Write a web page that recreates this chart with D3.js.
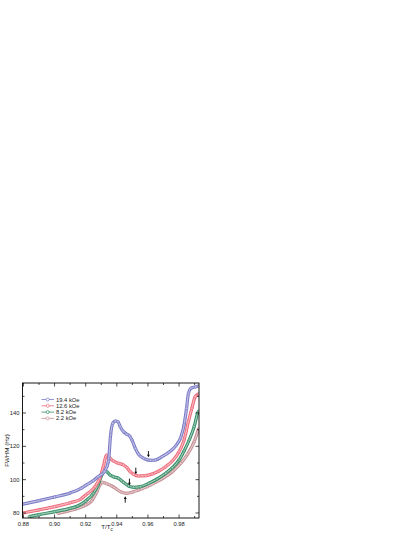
<!DOCTYPE html>
<html><head><meta charset="utf-8">
<script src="https://cdn.jsdelivr.net/npm/d3@7"></script>
<style>html,body{margin:0;padding:0;background:#fff;}svg{display:block;}</style>
</head><body>
<svg id="c" width="415" height="537"></svg>
<script>
const seriesNames = ["19.4 kOe", "12.6 kOe", "8.2 kOe", "2.2 kOe"];
const seriesColors = ["#7878c6", "#ee6878", "#318c64", "#c48c90"];
const blueX = [0.8795,0.89,0.90,0.91,0.917,0.92,0.925,0.928,0.932,0.9346,0.936,0.9374,0.939,0.9407,0.9422,0.9443,0.9465,0.9482,0.9497,0.9519,0.954,0.9573,0.9616,0.9649,0.969,0.9735,0.978,0.981,0.9832,0.9848,0.986,0.9876,0.9908,0.9925];
const blueY = [85.3,87.4,89.6,92.0,94.8,96.6,99.5,101.8,104.8,110.8,126.8,133.8,135.2,134.8,131.8,128.8,127.2,126.2,123.8,118.8,115.2,112.8,111.6,111.8,113.8,116.4,120.4,125.2,132.8,142.8,151.8,154.8,155.8,156.2];
const redX = [0.8795,0.89,0.90,0.91,0.917,0.92,0.926,0.929,0.9313,0.9329,0.9335,0.9357,0.9378,0.9411,0.9443,0.9465,0.9486,0.9508,0.954,0.9584,0.9627,0.967,0.9714,0.9757,0.98,0.9832,0.986,0.9882,0.9904,0.9925];
const redY = [80.0,81.9,83.8,86.2,88.4,90.8,95.8,100.8,107.8,113.8,114.8,112.8,111.2,109.8,108.8,107.2,104.8,103.2,102.2,102.4,103.4,105.2,107.8,111.2,116.8,123.8,134.8,142.8,149.8,151.4];
const greenX = [0.8838,0.89,0.90,0.91,0.915,0.92,0.9249,0.928,0.9303,0.932,0.9335,0.9357,0.9378,0.9411,0.9443,0.9476,0.9508,0.9551,0.9605,0.9659,0.9714,0.9757,0.98,0.9832,0.9865,0.9897,0.9919,0.9925];
const greenY = [77.8,79.0,80.8,82.8,84.2,87.2,91.8,96.8,102.8,105.2,104.8,102.8,101.8,100.8,98.4,96.2,95.4,95.8,97.8,100.4,103.8,107.2,111.8,117.2,123.8,131.8,139.8,141.0];
const brownX = [0.9022,0.908,0.913,0.92,0.9238,0.927,0.9292,0.9307,0.9335,0.9368,0.94,0.9432,0.9465,0.9497,0.954,0.9595,0.9649,0.9703,0.9757,0.9811,0.9854,0.9897,0.9925];
const brownY = [79.8,81.0,82.2,84.8,87.2,92.4,96.8,98.4,97.6,96.2,94.2,92.4,91.8,92.4,93.8,95.8,98.4,101.2,104.8,109.8,115.2,122.8,130.5];
const xTicks = [0.88,0.90,0.92,0.94,0.96,0.98];
const xTickLabels = ["0.88","0.90","0.92","0.94","0.96","0.98"];
const yTicks = [80,100,120,140];
const yTickLabels = ["80","100","120","140"];
// arrows: x, tail value, head value
const arrowX = [0.9603, 0.9522, 0.9481, 0.9454];
const arrowTail = [117.2, 107.2, 100.6, 86.2];
const arrowHead = [113.4, 103.2, 96.6, 90.0];

const xs = [blueX, redX, greenX, brownX];
const ys = [blueY, redY, greenY, brownY];

const L = 22.5, R = 199, T = 383, B = 518;
const x = d3.scaleLinear().domain([0.8794, 0.9928]).range([L, R]);
const y = d3.scaleLinear().domain([77, 158]).range([B, T]);
const svg = d3.select("#c");
const font = "Liberation Sans, Arial, sans-serif";

svg.append("defs").append("clipPath").attr("id","clip")
  .append("rect").attr("x",L).attr("y",T).attr("width",R-L).attr("height",B-T);

const line = d3.line().x(d=>x(d[0])).y(d=>y(d[1])).curve(d3.curveMonotoneX);
const g = svg.append("g").attr("clip-path","url(#clip)");
for (let i = 3; i >= 0; i--) {
  const pts = xs[i].map((v,k)=>[v, ys[i][k]]);
  const col = seriesColors[i];
  const light = d3.interpolateRgb(col, "#ffffff")(0.55);
  g.append("path").datum(pts).attr("d", line).attr("fill","none")
    .attr("stroke", col).attr("stroke-width", 3.2).attr("stroke-linejoin","round");
  g.append("path").datum(pts).attr("d", line).attr("fill","none")
    .attr("stroke", light).attr("stroke-width", 1.2).attr("stroke-linejoin","round");
  g.selectAll(null).data(pts).enter().append("circle")
    .attr("cx", d=>x(d[0])).attr("cy", d=>y(d[1])).attr("r", 1.3)
    .attr("fill", light).attr("stroke", col).attr("stroke-width", 0.6);
}

// arrows
arrowX.forEach((ax,i)=>{
  const px = x(ax), y0 = y(arrowTail[i]), y1 = y(arrowHead[i]);
  const dir = y1 > y0 ? 1 : -1;
  svg.append("line").attr("x1",px).attr("x2",px).attr("y1",y0).attr("y2",y1 - dir*2)
    .attr("stroke","#000").attr("stroke-width",0.9);
  svg.append("path").attr("d",`M${px-1.4},${y1-dir*2.6}L${px+1.4},${y1-dir*2.6}L${px},${y1}Z`)
    .attr("fill","#000");
});

// frame
svg.append("rect").attr("x",L).attr("y",T).attr("width",R-L).attr("height",B-T)
  .attr("fill","none").attr("stroke","#000").attr("stroke-width",0.9);

// ticks (inward)
const xMinor = [0.89,0.91,0.93,0.95,0.97,0.99];
const yMinor = [90,110,130,150];
const tk = svg.append("g").attr("stroke","#000").attr("stroke-width",0.7);
xTicks.forEach(v=>{
  tk.append("line").attr("x1",x(v)).attr("x2",x(v)).attr("y1",B).attr("y2",B-3.5);
  tk.append("line").attr("x1",x(v)).attr("x2",x(v)).attr("y1",T).attr("y2",T+3.5);
});
xMinor.forEach(v=>{
  tk.append("line").attr("x1",x(v)).attr("x2",x(v)).attr("y1",B).attr("y2",B-2);
  tk.append("line").attr("x1",x(v)).attr("x2",x(v)).attr("y1",T).attr("y2",T+2);
});
yTicks.forEach(v=>{
  tk.append("line").attr("x1",L).attr("x2",L+3.5).attr("y1",y(v)).attr("y2",y(v));
  tk.append("line").attr("x1",R).attr("x2",R-3.5).attr("y1",y(v)).attr("y2",y(v));
});
yMinor.forEach(v=>{
  tk.append("line").attr("x1",L).attr("x2",L+2).attr("y1",y(v)).attr("y2",y(v));
  tk.append("line").attr("x1",R).attr("x2",R-2).attr("y1",y(v)).attr("y2",y(v));
});

// tick labels
xTicks.forEach((v,i)=>{
  svg.append("text").attr("x",x(v)).attr("y",B+7.5).attr("text-anchor","middle")
    .attr("font-family",font).attr("font-size",5.8).attr("fill","#222").text(xTickLabels[i]);
});
yTicks.forEach((v,i)=>{
  svg.append("text").attr("x",L-3).attr("y",y(v)+2).attr("text-anchor","end")
    .attr("font-family",font).attr("font-size",5.8).attr("fill","#222").text(yTickLabels[i]);
});

// axis titles
svg.append("text").attr("transform",`translate(8.5,${(T+B)/2}) rotate(-90)`)
  .attr("text-anchor","middle").attr("font-family",font).attr("font-size",6.2).attr("fill","#222")
  .text("FWHM (Hz)");
const xt = svg.append("text").attr("x",107).attr("y",529).attr("text-anchor","middle")
  .attr("font-family",font).attr("font-size",6.2).attr("fill","#222");
xt.append("tspan").text("T/T");
xt.append("tspan").attr("font-size",4.5).attr("dy",2).text("c");

// legend
const legY = [399.5, 405.8, 412.1, 418.4];
seriesNames.forEach((n,i)=>{
  const ly = legY[i];
  svg.append("line").attr("x1",41.5).attr("x2",54).attr("y1",ly).attr("y2",ly)
    .attr("stroke",seriesColors[i]).attr("stroke-width",0.8);
  svg.append("circle").attr("cx",47.7).attr("cy",ly).attr("r",1.5)
    .attr("fill","#fff").attr("stroke",seriesColors[i]).attr("stroke-width",0.7);
  svg.append("text").attr("x",56).attr("y",ly+2).attr("font-family",font)
    .attr("font-size",5.8).attr("fill","#222").text(n);
});
</script>
</body></html>
